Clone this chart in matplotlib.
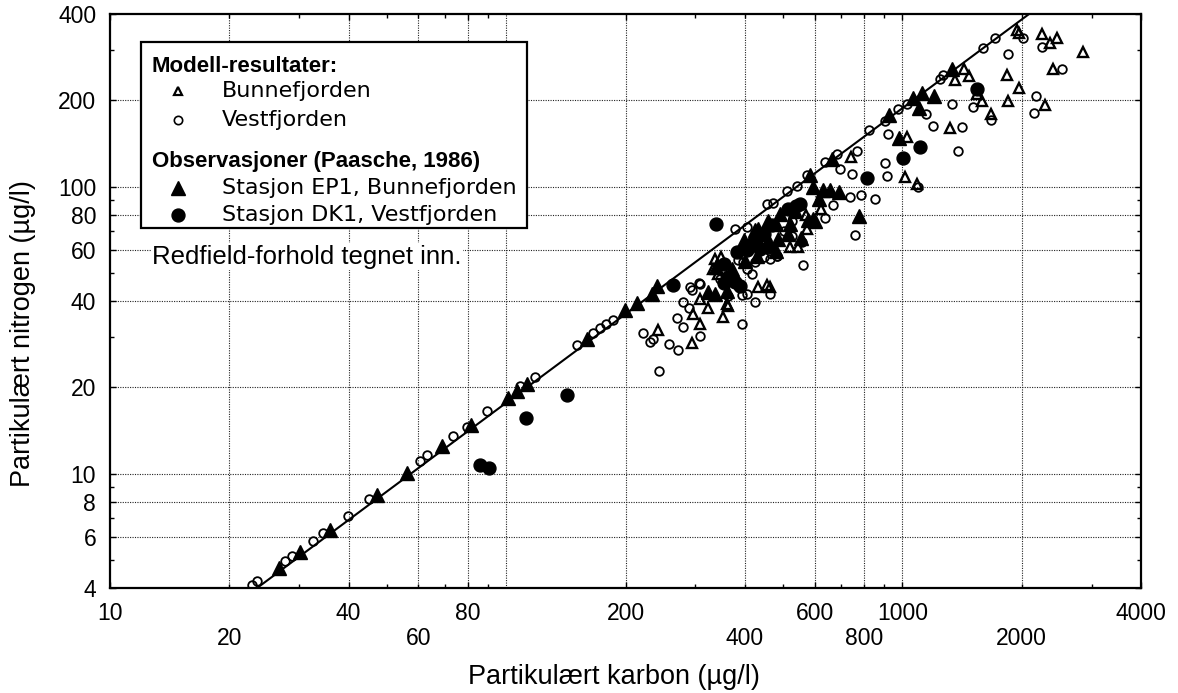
import matplotlib.pyplot as plt
from matplotlib.ticker import FixedLocator, FixedFormatter, FuncFormatter, NullFormatter
from matplotlib.patches import Rectangle

plt.rcParams['font.family'] = ['Liberation Sans', 'DejaVu Sans']

# Modell-resultater, Vestfjorden (open circles): karbon, nitrogen (ug/l)
vestC = [22.8, 23.5, 27.6, 28.8, 32.6, 34.4, 39.8, 45.1, 60.6, 63.2, 73.6, 79.4, 89.5, 108.5, 118,
         151, 166, 172.5, 179, 186,
         222, 231, 235, 257, 271, 243, 280, 289, 269, 280, 308, 308, 291, 394, 424, 463, 406, 393,
         362, 346, 295, 306,
         378, 404, 454, 470, 511, 542,
         526, 526, 503, 463, 446, 483, 424, 406, 416, 397, 385,
         562, 557, 481, 573, 637, 682, 695, 746, 766, 822, 903, 922, 905, 912, 784, 739, 852, 669,
         637, 760, 976, 1024, 1145, 1196, 1331, 1383, 1410, 1509, 1669, 2147, 2172, 1243, 1268,
         1599, 1711, 1849, 2017, 2245, 2521, 1096]
vestN = [4.1, 4.24, 4.97, 5.17, 5.83, 6.21, 7.15, 8.17, 11.1, 11.6, 13.5, 14.6, 16.5, 20.2, 21.8,
         28.1, 31.0, 32.1, 33.2, 34.4,
         30.9, 28.9, 29.5, 28.3, 27.1, 22.9, 39.6, 37.8, 35.0, 32.5, 30.3, 45.9, 44.6, 33.2, 39.6,
         42.3, 42.3, 41.9, 41.7, 47.7, 43.7, 46.3,
         71.4, 72.7, 87.3, 88, 96.5, 100.5,
         76.2, 67.6, 70.2, 56.1, 56.8, 57.5, 54.7, 51.7, 49.7, 54.7, 55.4,
         53.6, 64.1, 57.6, 109.6, 122, 130.4, 115.6, 110.8, 132.9, 157.4, 169, 153, 121, 109, 93.3,
         91.9, 90.8, 86.1, 77.7, 68.1, 187, 195, 179, 163, 194, 133, 162, 190, 171, 181, 208, 238,
         246, 305, 329, 290, 331, 308, 257, 99.8]

# Modell-resultater, Bunnefjorden (open triangles)
bunnC = [242, 336, 349, 333, 342, 308, 323, 363, 353, 308, 294, 296, 360, 433, 455, 520, 546,
         573, 571, 622, 740, 463, 1012, 1085, 1941, 1970, 2245, 2449, 2356, 2858, 2402, 1831,
         1971, 1849, 2288, 1669, 1584, 1543, 1434, 1474, 1358, 1318, 1024]
bunnN = [31.8, 56.1, 56.8, 51.7, 49.7, 40.6, 37.7, 38.5, 35.2, 33.2, 28.6, 36.0, 39.0, 44.8, 45.6,
         61.6, 61.6, 71.4, 80, 83.5, 127, 44.6, 108, 102.5, 352, 344, 342, 331, 316, 296, 257, 246,
         221, 199, 192, 180, 199, 211, 258, 244, 236, 160, 149]

# Observasjoner, stasjon EP1 Bunnefjorden (filled triangles)
ep1C = [26.7, 30.2, 36.0, 47.1, 56.1, 68.7, 81.3, 100.8, 106.4, 112.8, 159.6, 199, 214, 233, 240,
        425, 429, 458, 480, 537, 485, 429, 480, 371, 339, 398, 336, 323, 419, 432, 450, 513,
        594, 594, 630, 656, 690, 584, 664, 556, 601, 614, 778, 981, 926, 1061, 1100, 1118,
        1201, 1336, 401, 491, 361, 520, 577]
ep1N = [4.71, 5.35, 6.37, 8.46, 10.06, 12.45, 14.8, 18.3, 19.4, 20.5, 29.6, 37.3, 39.4, 42.3, 45.2,
        70.9, 65.8, 76.2, 74.3, 82.3, 65.8, 57.2, 59.8, 51.7, 52.6, 65.0, 42.3, 43.0, 67.6, 71.4,
        68.6, 68.6, 77.3, 100, 97.4, 97.4, 96, 110, 125, 66.5, 76.2, 90.8, 79.4, 148, 177.5, 204,
        188, 213, 207.5, 258, 55.2, 80.5, 43.3, 74.3, 76.4]

# Observasjoner, stasjon DK1 Vestfjorden (filled circles)
dk1C = [85.8, 90.6, 112.3, 142.3, 263, 338, 382, 404, 378, 389, 363, 354, 354, 514, 540, 458,
        416, 446, 468, 812, 1005, 1106, 1544, 437, 551]
dk1N = [10.7, 10.5, 15.7, 18.8, 45.5, 74.3, 59.2, 60.0, 46.6, 45.0, 48.4, 53.9, 46.3, 83.8, 85.4,
        61.6, 63.3, 68.6, 73.5, 107, 126, 138, 219, 60.8, 87.3]

# Redfield line, end points as drawn in the figure
lineC = [23.5, 2199]
lineN = [4.0, 422]

xUpper = [10, 40, 80, 200, 600, 1000, 4000]
xLower = [20, 60, 100, 400, 800, 2000]
xGrid = [20, 40, 60, 80, 100, 200, 400, 600, 800, 1000, 2000]
yTicks = [4, 6, 8, 10, 20, 40, 60, 80, 100, 200, 400]
yGrid = [6, 8, 10, 20, 40, 60, 80, 100, 200]

fig = plt.figure(figsize=(11.78, 6.93), dpi=100)
ax = fig.add_axes([0.0934, 0.1515, 0.8752, 0.8283])
ax.set_xscale('log')
ax.set_yscale('log')
ax.set_xlim(10, 4000)
ax.set_ylim(4, 400)

for v in xGrid:
  ax.axvline(v, color='#222222', lw=0.8, ls=(0, (1, 1.2)), zorder=1)
for v in yGrid:
  ax.axhline(v, color='#222222', lw=0.8, ls=(0, (1, 1.2)), zorder=1)

ax.plot(lineC, lineN, color='k', lw=1.5, zorder=2)

ax.plot(vestC, vestN, 'o', ls='none', ms=6.2, mfc='none', mec='k', mew=1.3, zorder=3)
ax.plot(bunnC, bunnN, '^', ls='none', ms=6.6, mfc='none', mec='k', mew=1.7, zorder=3)
ax.plot(ep1C, ep1N, '^', ls='none', ms=9.5, color='k', zorder=4)
ax.plot(dk1C, dk1N, 'o', ls='none', ms=9.3, color='k', zorder=4)

# ticks: staggered labels on x
allMinor = [m * 10 ** e for e in (1, 2, 3) for m in range(2, 10) if m * 10 ** e <= 4000]
xMinor = [v for v in allMinor if v not in xUpper]
ax.xaxis.set_major_locator(FixedLocator(xUpper))
ax.xaxis.set_major_formatter(FixedFormatter([str(v) for v in xUpper]))
ax.xaxis.set_minor_locator(FixedLocator(xMinor))
ax.xaxis.set_minor_formatter(FuncFormatter(lambda v, p: '%d' % round(v) if round(v) in xLower else ''))
ax.yaxis.set_major_locator(FixedLocator(yTicks))
ax.yaxis.set_major_formatter(FixedFormatter([str(v) for v in yTicks]))
ax.yaxis.set_minor_locator(FixedLocator([v for v in allMinor if v not in yTicks and v < 400] + [5, 7, 9]))
ax.yaxis.set_minor_formatter(NullFormatter())

ax.tick_params(which='both', direction='in', top=True, right=True, labelsize=16.5, width=1)
ax.tick_params(axis='x', which='major', length=4, pad=10)
ax.tick_params(axis='x', which='minor', length=3, pad=28)
ax.tick_params(axis='y', which='major', length=4, pad=10)
ax.tick_params(axis='y', which='minor', length=3)

for s in ax.spines.values():
  s.set_linewidth(1.6)

ax.set_xlabel('Partikulært karbon (µg/l)', fontsize=19.5)
ax.set_ylabel('Partikulært nitrogen (µg/l)', fontsize=19.5)
ax.xaxis.set_label_coords(0.489, -0.133)
ax.yaxis.set_label_coords(-0.072, 0.444)

# legend box
tr = ax.transAxes
ax.add_patch(Rectangle((0.0298, 0.6267), 0.3744, 0.324, transform=tr, facecolor='white',
                       edgecolor='k', lw=1.6, zorder=5))
ax.text(0.0407, 0.9082, 'Modell-resultater:', transform=tr, fontsize=16, fontweight='bold',
        va='center', zorder=6)
ax.text(0.0407, 0.7439, 'Observasjoner (Paasche, 1986)', transform=tr, fontsize=16,
        fontweight='bold', va='center', zorder=6)
entries = [('^', 6.2, 'none', 1.6, 0.8659, 'Bunnefjorden'),
           ('o', 6.0, 'none', 1.2, 0.8153, 'Vestfjorden'),
           ('^', 9.5, 'k', 1, 0.6969, 'Stasjon EP1, Bunnefjorden'),
           ('o', 9.3, 'k', 1, 0.6498, 'Stasjon DK1, Vestfjorden')]
for mk, ms, fc, ew, y, label in entries:
  ax.plot([0.066], [y], mk, ms=ms, mfc=fc, mec='k', mew=ew, transform=tr, zorder=6, clip_on=False)
  ax.text(0.1086, y, label, transform=tr, fontsize=16, family='DejaVu Sans', va='center', zorder=6)

ax.text(0.0407, 0.5772, 'Redfield-forhold tegnet inn.', transform=tr, fontsize=18.5, va='center',
        zorder=6, bbox=dict(facecolor='white', edgecolor='none', pad=1))

plt.savefig('out.png', dpi=100)
